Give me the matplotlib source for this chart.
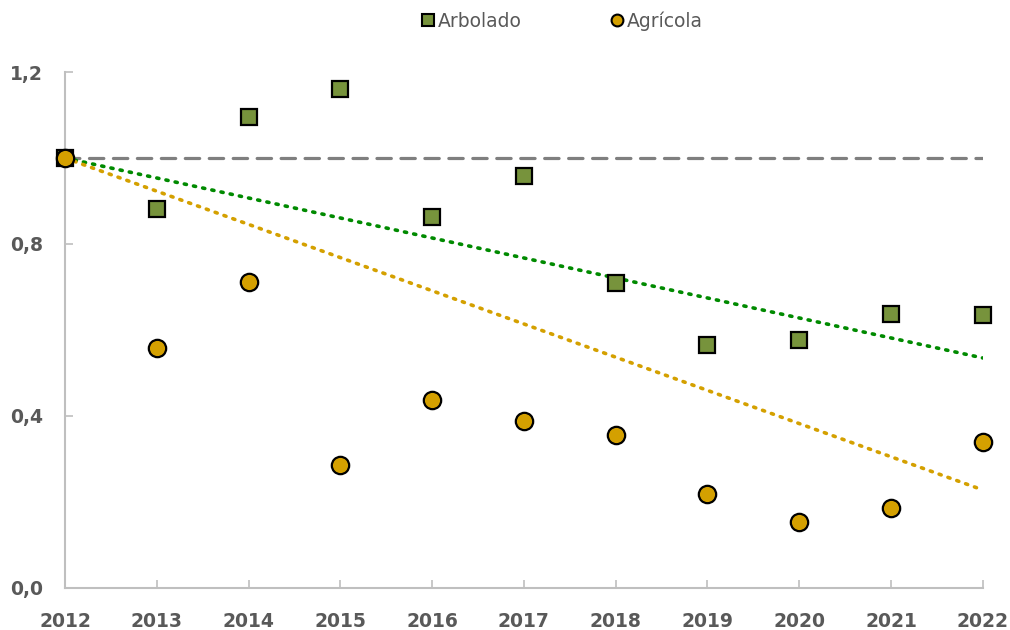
import matplotlib
matplotlib.use("Agg")
import matplotlib.pyplot as plt
from matplotlib.ticker import FuncFormatter
from matplotlib.lines import Line2D

years = [2012, 2013, 2014, 2015, 2016, 2017, 2018, 2019, 2020, 2021, 2022]
arbolado = [1.0, 0.881, 1.095, 1.160, 0.863, 0.958, 0.709, 0.565, 0.577, 0.637, 0.635]
agricola = [1.0, 0.558, 0.712, 0.286, 0.437, 0.388, 0.356, 0.219, 0.153, 0.186, 0.340]
trend_years = [2012, 2022]
trend_arbolado = [1.0, 0.535]
trend_agricola = [1.0, 0.228]
baseline = [1.0, 1.0]
yticks = [0.0, 0.4, 0.8, 1.2]

green_fill = "#77933C"
gold_fill = "#D4A000"
green_trend = "#008A00"
gold_trend = "#D4A000"
grey_txt = "#595959"

fig = plt.figure(figsize=(10.1, 6.3), dpi=100)
ax = fig.add_axes([0.0644, 0.0667, 0.9086, 0.8190])

ax.plot(trend_years, baseline, color="#7F7F7F", lw=2.3, dashes=(4.5, 3), zorder=1,
        dash_capstyle="round")
ax.plot(trend_years, trend_arbolado, color=green_trend, lw=2.6, linestyle=(0, (0.6, 2.0)),
        dash_capstyle="round", zorder=2)
ax.plot(trend_years, trend_agricola, color=gold_trend, lw=2.6, linestyle=(0, (0.6, 2.0)),
        dash_capstyle="round", zorder=2)

ax.plot(years, arbolado, linestyle="none", marker="s", markersize=11.5, markerfacecolor=green_fill,
        markeredgecolor="black", markeredgewidth=1.6, clip_on=False, zorder=3)
ax.plot(years, agricola, linestyle="none", marker="o", markersize=12.5, markerfacecolor=gold_fill,
        markeredgecolor="black", markeredgewidth=1.6, clip_on=False, zorder=4)

ax.set_xlim(2012, 2022)
ax.set_ylim(0, 1.2)
ax.set_xticks(years)
ax.set_yticks(yticks)
ax.yaxis.set_major_formatter(FuncFormatter(lambda v, p: f"{v:.1f}".replace(".", ",")))

for s in ["top", "right"]:
    ax.spines[s].set_visible(False)
for s in ["left", "bottom"]:
    ax.spines[s].set_color("#BFBFBF")
    ax.spines[s].set_linewidth(1.5)

ax.tick_params(axis="both", direction="in", length=6, width=1.2, color="#BFBFBF",
               labelsize=13.5, labelcolor=grey_txt)
ax.tick_params(axis="x", pad=17)
ax.tick_params(axis="y", pad=16)
for lab in ax.get_xticklabels() + ax.get_yticklabels():
    lab.set_fontweight("bold")

handles = [
    Line2D([], [], linestyle="none", marker="s", markersize=8.5, markerfacecolor=green_fill,
           markeredgecolor="black", markeredgewidth=1.5),
    Line2D([], [], linestyle="none", marker="o", markersize=8.5, markerfacecolor=gold_fill,
           markeredgecolor="black", markeredgewidth=1.5),
]
fig.legend(handles, ["Arbolado", "Agrícola"], loc="center", bbox_to_anchor=(0.555, 1 - 21 / 630),
           ncol=2, frameon=False, fontsize=13.5, handletextpad=0.0, columnspacing=4.6,
           labelcolor=grey_txt, handlelength=1.0)

fig.savefig("out.png", dpi=100)
